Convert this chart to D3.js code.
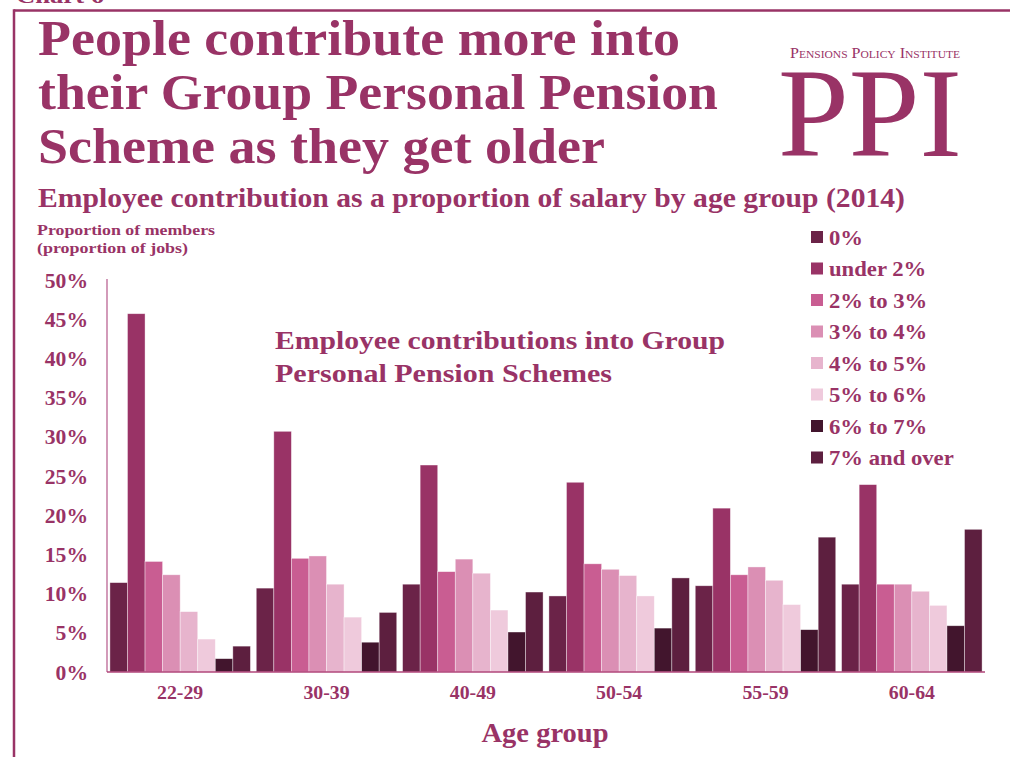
<!DOCTYPE html>
<html>
<head>
<meta charset="utf-8">
<script src="https://cdn.jsdelivr.net/npm/d3@7"></script>
<style>
  html, body { margin: 0; padding: 0; background: #ffffff; }
  svg { display: block; }
  text { font-family: "Liberation Serif", "DejaVu Serif", serif; }
</style>
</head>
<body>
<div id="chart"></div>
<script>
// ---------- data ----------
const ageGroups = ["22-29", "30-39", "40-49", "50-54", "55-59", "60-64"];
const seriesNames = ["0%", "under 2%", "2% to 3%", "3% to 4%", "4% to 5%", "5% to 6%", "6% to 7%", "7% and over"];
const seriesColors = ["#6b2348", "#993366", "#c95d92", "#db8fb4", "#e7b4cd", "#efcadc", "#42152d", "#5d1f3f"];
const values0 = [11.4, 10.7, 11.2, 9.7, 11.0, 11.2];
const valuesUnder2 = [45.7, 30.7, 26.4, 24.2, 20.9, 23.9];
const values2to3 = [14.1, 14.5, 12.8, 13.8, 12.4, 11.2];
const values3to4 = [12.4, 14.8, 14.4, 13.1, 13.4, 11.2];
const values4to5 = [7.7, 11.2, 12.6, 12.3, 11.7, 10.3];
const values5to6 = [4.2, 7.0, 7.9, 9.7, 8.6, 8.5];
const values6to7 = [1.7, 3.8, 5.1, 5.6, 5.4, 5.9];
const values7plus = [3.3, 7.6, 10.2, 12.0, 17.2, 18.2];
const seriesValues = [values0, valuesUnder2, values2to3, values3to4, values4to5, values5to6, values6to7, values7plus];
const yTicks = [0, 5, 10, 15, 20, 25, 30, 35, 40, 45, 50];

// ---------- layout ----------
const W = 1010, H = 757;
const C = "#993366";
const svg = d3.select("#chart").append("svg").attr("width", W).attr("height", H);

// frame
svg.append("line").attr("x1", 14).attr("x2", W).attr("y1", 10.5).attr("y2", 10.5)
  .attr("stroke", C).attr("stroke-width", 2.5);
svg.append("line").attr("x1", 14).attr("x2", 14).attr("y1", 9.3).attr("y2", H)
  .attr("stroke", C).attr("stroke-width", 2.5);

function txt(s, x, y, size, opts = {}) {
  const t = svg.append("text").attr("x", x).attr("y", y).text(s)
    .attr("font-size", size).attr("fill", opts.fill || C)
    .attr("font-weight", opts.weight || "bold");
  if (opts.anchor) t.attr("text-anchor", opts.anchor);
  if (opts.len) t.attr("textLength", opts.len).attr("lengthAdjust", "spacingAndGlyphs");
  if (opts.variant) t.attr("font-variant", opts.variant);
  return t;
}
function stretch(sel, f) {
  sel.each(function () {
    const w = this.getComputedTextLength();
    d3.select(this).attr("textLength", w * f).attr("lengthAdjust", "spacingAndGlyphs");
  });
}

// cut-off header label
txt("Chart 6", 16, 3, 22, {len: 88});

// title
txt("People contribute more into", 38, 55, 50, {len: 642});
txt("their Group Personal Pension", 38, 109, 50, {len: 680});
txt("Scheme as they get older", 38, 163, 50, {len: 567});

// subtitle
txt("Employee contribution as a proportion of salary by age group (2014)", 38, 207, 27, {len: 867});

// logo
txt("Pensions Policy Institute", 790, 58, 14, {weight: "normal", variant: "small-caps", len: 170});
txt("PPI", 778, 156, 126, {weight: "normal", len: 184});

// y axis title
txt("Proportion of members", 37, 235, 15.5, {len: 178});
txt("(proportion of jobs)", 37, 253, 15.5, {len: 151});

// ---------- scales ----------
const x0 = d3.scaleBand().domain(ageGroups).range([107, 985]).paddingInner(0.04).paddingOuter(0.02);
const x1 = d3.scaleBand().domain(seriesNames).range([0, x0.bandwidth()]).padding(0);
const y = d3.scaleLinear().domain([0, 50]).range([672, 280]);

// bars
const groups = svg.append("g").selectAll("g").data(ageGroups).join("g")
  .attr("transform", d => `translate(${x0(d)},0)`);
groups.selectAll("rect")
  .data((g, gi) => seriesNames.map((s, si) => ({s, si, v: seriesValues[si][gi]})))
  .join("rect")
  .attr("x", d => x1(d.s))
  .attr("width", x1.bandwidth())
  .attr("y", d => y(d.v))
  .attr("height", d => y(0) - y(d.v))
  .attr("fill", d => seriesColors[d.si])
  .attr("stroke", "rgba(255,255,255,0.55)")
  .attr("stroke-width", 0.7);

// y axis
const yAxis = svg.append("g").attr("transform", "translate(107,0)")
  .call(d3.axisLeft(y).tickValues(yTicks).tickSize(0).tickPadding(19).tickFormat(d => d + "%"));
yAxis.select(".domain").attr("stroke", "#b5588a").attr("stroke-width", 1.2).attr("d", `M0,${y(50) - 1}V${y(0)}`);
yAxis.selectAll("text").attr("fill", C).attr("font-size", 20).attr("font-weight", "bold")
  .attr("font-family", "Liberation Serif, serif").attr("dy", "0.35em");
stretch(yAxis.selectAll("text"), 1.08);

// x axis
const xAxis = svg.append("g").attr("transform", `translate(0,${y(0)})`)
  .call(d3.axisBottom(x0).tickSize(0).tickPadding(22));
xAxis.select(".domain").attr("stroke", "#b0467a").attr("stroke-width", 1.6).attr("d", "M107,0H985");
xAxis.selectAll("text").attr("fill", C).attr("font-size", 18).attr("font-weight", "bold")
  .attr("font-family", "Liberation Serif, serif").attr("dy", "0.3em");
stretch(xAxis.selectAll("text"), 1.1);

txt("Age group", 545, 742, 27, {anchor: "middle", len: 127});

// annotation
txt("Employee contributions into Group", 275, 349, 24.5, {len: 450});
txt("Personal Pension Schemes", 275, 382, 24.5, {len: 337});

// legend
const leg = svg.append("g").selectAll("g").data(seriesNames).join("g")
  .attr("transform", (d, i) => `translate(811,${237 + i * 31.5})`);
leg.append("rect").attr("x", 0).attr("y", -6).attr("width", 12).attr("height", 12)
  .attr("fill", (d, i) => seriesColors[i]);
const legText = leg.append("text").attr("x", 18).attr("y", 7.5).text(d => d)
  .attr("font-size", 21).attr("font-weight", "bold").attr("fill", C);
stretch(legText, 1.08);
</script>
</body>
</html>
